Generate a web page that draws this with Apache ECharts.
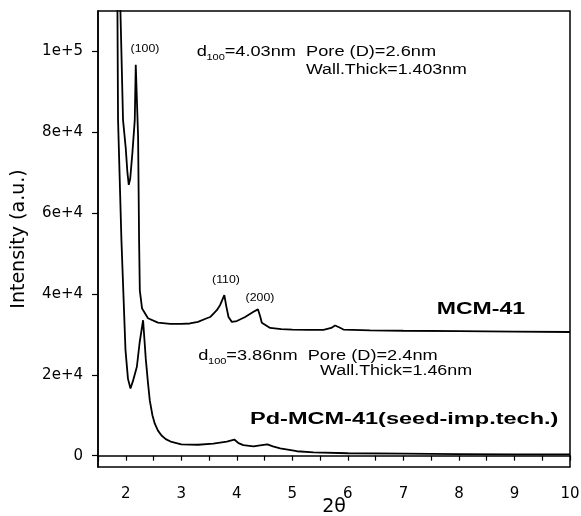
<!DOCTYPE html>
<html>
<head>
<meta charset="utf-8">
<script src="https://cdn.jsdelivr.net/npm/echarts@6/dist/echarts.min.js"></script>
<style>
  html, body { margin: 0; padding: 0; background: #fff; }
  #chart { width: 581px; height: 516px; }
</style>
</head>
<body>
<div id="chart"></div>
<script>
// MCM-41 (upper trace), 2theta / intensity
const mcmX = [1.89, 1.951, 2.0, 2.03, 2.054, 2.08, 2.12, 2.162, 2.18, 2.222, 2.24, 2.253, 2.294, 2.4, 2.58, 2.8, 3.0, 3.155, 3.3, 3.46, 3.52, 3.64, 3.7, 3.775, 3.81, 3.85, 3.91, 4.0, 4.15, 4.3, 4.38, 4.42, 4.45, 4.6, 4.8, 5.0, 5.3, 5.56, 5.7, 5.77, 5.85, 5.92, 6.4, 7, 8, 9, 10]
const mcmY = [118000, 83000, 76000, 70000, 67000, 68500, 75000, 83000, 96700, 78900, 53300, 40900, 36400, 34000, 32900, 32600, 32600, 32700, 33100, 34000, 34300, 36000, 37300, 39700, 37000, 34300, 33100, 33300, 34300, 35600, 36200, 34500, 32900, 31600, 31300, 31200, 31100, 31100, 31600, 32200, 31700, 31200, 31000, 30900, 30800, 30700, 30600]

// Pd-MCM-41 (lower trace)
const pdX = [1.847, 1.861, 1.922, 1.995, 2.04, 2.085, 2.13, 2.2, 2.25, 2.312, 2.34, 2.36, 2.4, 2.433, 2.48, 2.523, 2.58, 2.644, 2.72, 2.825, 3.0, 3.3, 3.576, 3.82, 3.955, 4.03, 4.117, 4.3, 4.45, 4.55, 4.65, 4.78, 5.08, 5.38, 6.0, 7.0, 8.0, 9.0, 10]
const pdY = [118000, 83100, 53300, 26100, 19000, 16600, 18500, 22000, 28000, 33500, 28000, 24000, 18000, 13600, 10000, 7900, 6200, 5000, 4100, 3400, 2800, 2700, 3000, 3500, 4000, 3100, 2600, 2300, 2600, 2800, 2300, 1800, 1100, 800, 600, 500, 400, 300, 300]

const yTicks = [0, 20000, 40000, 60000, 80000, 100000]
const yTickLabels = ["0", "2e+4", "4e+4", "6e+4", "8e+4", "1e+5"]

const pairs = (xs, ys) => xs.map((x, i) => [x, ys[i]])

const txt = (x, y, s, font, extra) => ({
  type: "text",
  x: x,
  y: y,
  style: Object.assign({
    text: s,
    font: font + " 'Liberation Sans', Arial, sans-serif",
    fill: "#000",
    textVerticalAlign: "middle"
  }, extra || {})
})

// d100 line with subscript, drawn stretched like the source figure
const dLine = (x, y, rest) => ({
  type: "group",
  x: x,
  y: y,
  scaleX: 1.3,
  children: [
    txt(0, 0, "d", "14px"),
    txt(7.5, 6, "100", "8.5px"),
    txt(21.5, 0, rest, "14px")
  ]
})

const myChart = echarts.init(document.getElementById("chart"))

const option = {
  animation: false,
  backgroundColor: "#fff",
  grid: {
    left: 98,
    right: 11,
    top: 11,
    bottom: 49,
    outerBoundsMode: "none",
    containLabel: false,
    show: true,
    borderColor: "#000",
    borderWidth: 1.5
  },
  xAxis: {
    type: "value",
    min: 1.5,
    max: 10,
    interval: 0.5,
    name: "2θ",
    nameLocation: "middle",
    nameGap: 31,
    nameMoveOverlap: false,
    nameTextStyle: { fontFamily: "DejaVu Sans", fontSize: 19, color: "#000" },
    axisLine: { lineStyle: { color: "#000", width: 1.5 } },
    axisTick: { length: 5, lineStyle: { color: "#000", width: 1.2 } },
    axisLabel: {
      margin: 20,
      fontFamily: "DejaVu Sans",
      fontSize: 15,
      color: "#000",
      formatter: (v) => (Number.isInteger(v) ? String(v) : "")
    },
    splitLine: { show: false }
  },
  yAxis: {
    type: "value",
    min: -2800,
    max: 110000,
    name: "Intensity (a.u.)",
    nameLocation: "middle",
    nameGap: 69,
    nameMoveOverlap: false,
    nameTextStyle: { fontFamily: "DejaVu Sans", fontSize: 19, color: "#000" },
    axisLine: { show: true, lineStyle: { color: "#000", width: 1.5 } },
    axisTick: { show: true, length: 6, customValues: yTicks, lineStyle: { color: "#000", width: 1.2 } },
    axisLabel: {
      margin: 15,
      fontFamily: "DejaVu Sans",
      fontSize: 15,
      color: "#000",
      customValues: yTicks,
      formatter: (v) => yTickLabels[yTicks.indexOf(v)] || ""
    },
    splitLine: { show: false }
  },
  series: [
    {
      name: "MCM-41",
      type: "line",
      data: pairs(mcmX, mcmY),
      showSymbol: false,
      clip: true,
      lineStyle: { color: "#000", width: 1.8 }
    },
    {
      name: "Pd-MCM-41",
      type: "line",
      data: pairs(pdX, pdY),
      showSymbol: false,
      clip: true,
      lineStyle: { color: "#000", width: 1.8 }
    }
  ],
  graphic: [
    Object.assign(txt(145, 49, "(100)", "11px", { textAlign: "center" }), { scaleX: 1.12 }),
    Object.assign(txt(226, 280, "(110)", "11px", { textAlign: "center" }), { scaleX: 1.12 }),
    Object.assign(txt(260, 298, "(200)", "11px", { textAlign: "center" }), { scaleX: 1.12 }),
    dLine(196.7, 52, "=4.03nm  Pore (D)=2.6nm"),
    Object.assign(txt(306, 69.7, "Wall.Thick=1.403nm", "14px"), { scaleX: 1.27 }),
    Object.assign(txt(436.7, 310, "MCM-41", "bold 16px"), { scaleX: 1.44 }),
    dLine(198.3, 356, "=3.86nm  Pore (D)=2.4nm"),
    Object.assign(txt(320, 371.5, "Wall.Thick=1.46nm", "14px"), { scaleX: 1.28 }),
    Object.assign(txt(250, 420, "Pd-MCM-41(seed-imp.tech.)", "bold 16px"), { scaleX: 1.47 })
  ]
}

myChart.setOption(option)
window.addEventListener("resize", () => myChart.resize())
</script>
</body>
</html>
